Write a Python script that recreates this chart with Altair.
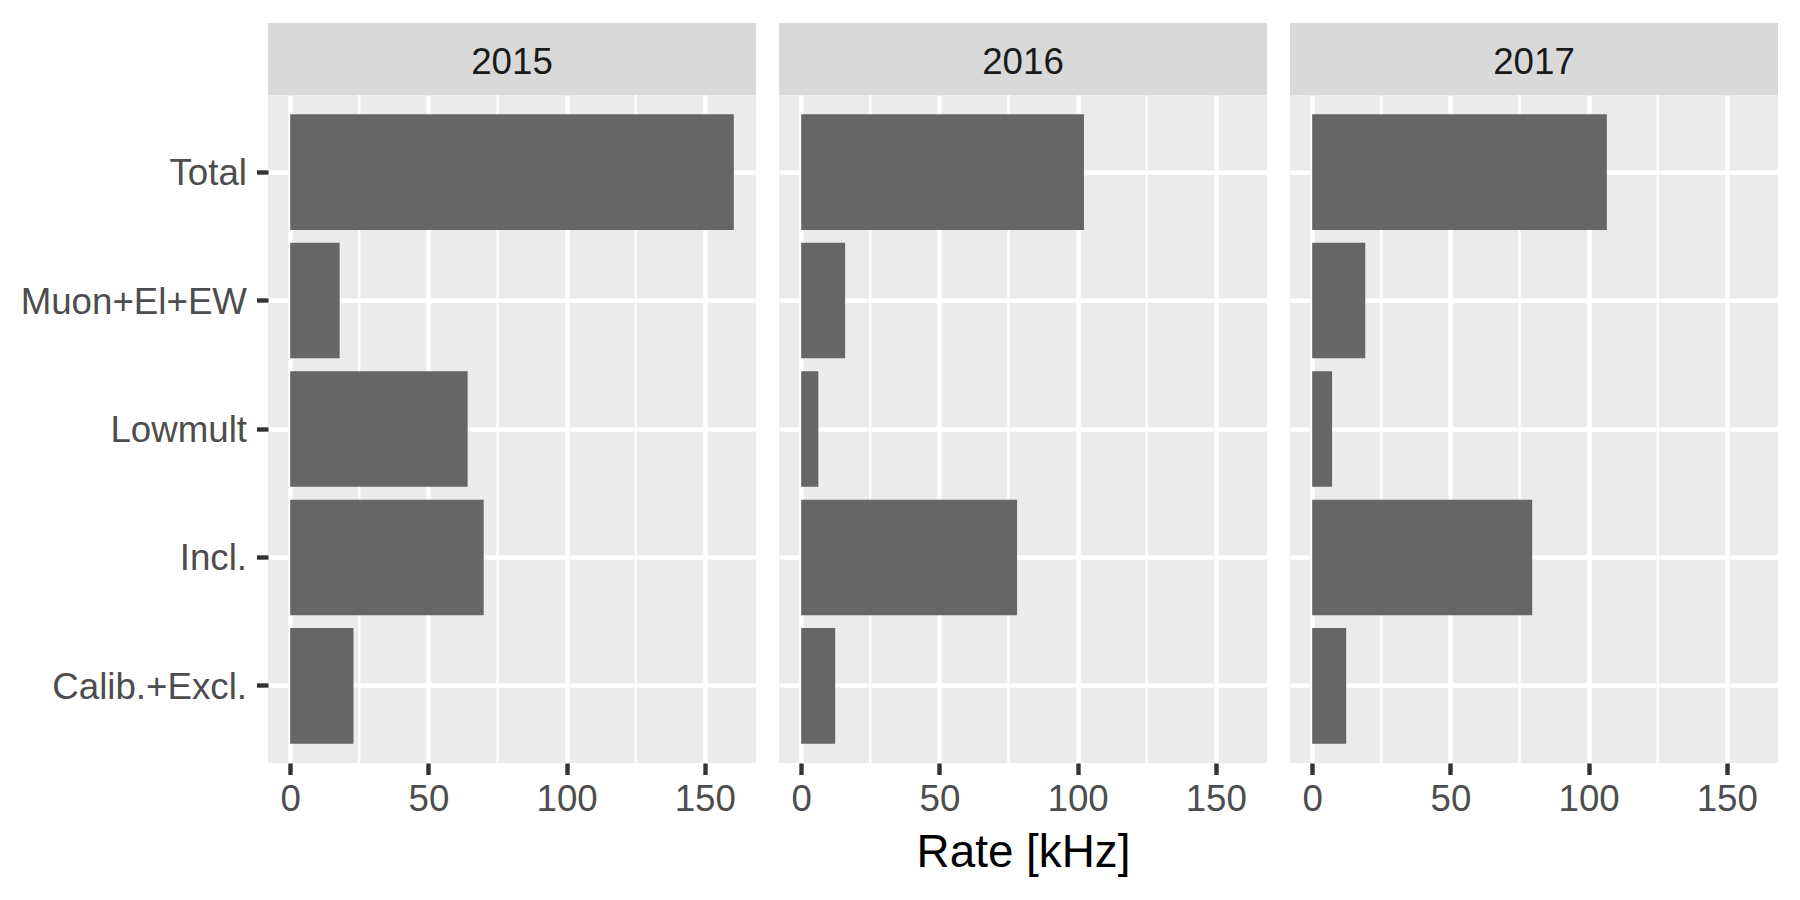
import altair as alt
import pandas as pd

# ---- data ----
categories = ["Total", "Muon+El+EW", "Lowmult", "Incl.", "Calib.+Excl."]
years = ["2015", "2016", "2017"]
rates_2015 = [160.5, 17.9, 64.2, 70.0, 22.9]
rates_2016 = [102.3, 15.9, 6.2, 78.1, 12.3]
rates_2017 = [106.6, 19.2, 7.2, 79.6, 12.3]
major_ticks = [0, 50, 100, 150]
minor_ticks = [25, 75, 125]

series = [rates_2015, rates_2016, rates_2017]

W, H = 488, 668
STRIP = 72
FONT = "Liberation Sans"
TXT = 36.7

dmax = max(max(s) for s in series)
xscale = alt.Scale(domain=[-0.05 * dmax, 1.05 * dmax], nice=False, zero=False)
yscale = alt.Scale(paddingInner=0.1, paddingOuter=0.15)


def panel(idx, year, vals):
    df = pd.DataFrame({"category": categories, "rate": vals, "year": year})
    base = alt.Chart(df)

    xaxis = alt.Axis(
        values=major_ticks,
        title="Rate [kHz]" if idx == 1 else None,
        grid=True,
    )
    if idx == 0:
        yaxis = alt.Axis(title=None, grid=True, bandPosition=0.5, labelLimit=0,
                         labelOffset=2)
    else:
        yaxis = alt.Axis(title=None, grid=True, labels=False, ticks=False,
                         bandPosition=0.5)

    minor = alt.Chart(pd.DataFrame({"v": minor_ticks})).mark_rule(
        color="white", strokeWidth=2.2
    ).encode(x=alt.X("v:Q", scale=xscale, axis=xaxis))

    bars = base.mark_bar(color="#666666").encode(
        x=alt.X("rate:Q", scale=xscale, axis=xaxis),
        y=alt.Y("category:N", sort=categories, scale=yscale, axis=yaxis),
    )

    one = base.transform_filter(alt.datum.category == categories[0])
    strip = one.mark_rect(color="#D9D9D9").encode(
        x=alt.value(0), x2=alt.value(W), y=alt.value(-STRIP), y2=alt.value(0)
    )
    strip_text = one.mark_text(
        font=FONT, fontSize=TXT, color="#1A1A1A", align="center", baseline="middle"
    ).encode(x=alt.value(W / 2), y=alt.value(-32), text="year:N")

    return alt.layer(minor, bars, strip, strip_text).properties(width=W, height=H)


panels = [panel(i, y, s) for i, (y, s) in enumerate(zip(years, series))]

chart = alt.hconcat(*panels, spacing=23).properties(
    padding={"left": 12, "top": 15, "right": 10, "bottom": 10}
).configure_view(
    fill="#EBEBEB", stroke=None
).configure_axis(
    domain=False,
    labelFont=FONT,
    labelFontSize=TXT,
    labelColor="#4D4D4D",
    labelLimit=0,
    tickColor="#333333",
    tickWidth=4.4,
    tickSize=11.5,
    gridColor="white",
    gridWidth=4.4,
    titleFont=FONT,
    titleFontSize=45.8,
    titleFontWeight="normal",
    titleColor="black",
).configure_axisX(
    labelPadding=7, titlePadding=12
).configure_axisY(
    labelPadding=10
)

chart.save("out.html", embed_options={"renderer": "svg", "actions": False})
